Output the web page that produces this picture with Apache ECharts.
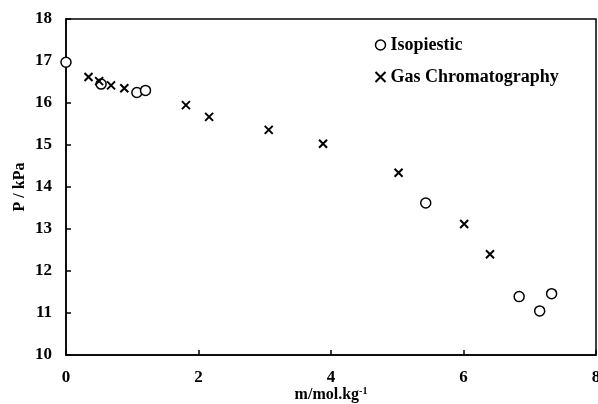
<!DOCTYPE html>
<html><head><meta charset="utf-8">
<script src="https://cdn.jsdelivr.net/npm/echarts@6/dist/echarts.min.js"></script>
<style>html,body{margin:0;padding:0;background:#fff}#c{width:598px;height:404px}</style>
</head><body><div id="c"></div>
<script>
const isoX = [0, 0.53, 1.07, 1.20, 5.43, 6.84, 7.15, 7.33];
const isoY = [16.97, 16.45, 16.25, 16.30, 13.62, 11.39, 11.05, 11.46];
const gcX = [0.34, 0.50, 0.68, 0.88, 1.81, 2.16, 3.06, 3.88, 5.02, 6.01, 6.40];
const gcY = [16.62, 16.52, 16.42, 16.35, 15.95, 15.67, 15.36, 15.03, 14.34, 13.12, 12.40];
const xTicks = [0, 2, 4, 6, 8];
const yTicks = [10, 11, 12, 13, 14, 15, 16, 17, 18];

const font = 'Liberation Serif';
const cross = 'path://M0,0L10,10M10,0L0,10';
const chart = echarts.init(document.getElementById('c'));
chart.setOption({
  animation: false,
  backgroundColor: '#fff',
  grid: {left: 66, right: 2, top: 19, bottom: 49, show: true, borderColor: '#000', borderWidth: 1.5,
         containLabel: false, outerBoundsMode: 'none'},
  legend: {
    orient: 'vertical', left: 368, top: 31, itemGap: 14, itemWidth: 10, itemHeight: 10,
    textStyle: {fontFamily: font, fontWeight: 'bold', fontSize: 18, color: '#000'},
    data: [
      {name: 'Isopiestic', icon: 'circle', itemStyle: {color: '#fff', borderColor: '#000', borderWidth: 1.5}},
      {name: 'Gas Chromatography', icon: cross, itemStyle: {color: 'none', borderColor: '#000', borderWidth: 2}}
    ]
  },
  xAxis: {
    type: 'value', min: xTicks[0], max: xTicks[xTicks.length-1], interval: 2,
    splitLine: {show: false},
    axisLine: {lineStyle: {color: '#000', width: 1.5}},
    axisTick: {inside: true, length: 5, lineStyle: {color: '#000', width: 1.5}},
    axisLabel: {fontFamily: font, fontWeight: 'bold', fontSize: 17, color: '#000', margin: 14},
    name: '{a|m/mol.kg}{s|-1}', nameLocation: 'middle', nameGap: 31, nameMoveOverlap: false,
    nameTextStyle: {rich: {
      a: {fontFamily: font, fontWeight: 'bold', fontSize: 16, color: '#000'},
      s: {fontFamily: font, fontWeight: 'bold', fontSize: 10, color: '#000', verticalAlign: 'top', padding: [0,0,8,0]}
    }}
  },
  yAxis: {
    type: 'value', min: yTicks[0], max: yTicks[yTicks.length-1], interval: 1,
    splitLine: {show: false},
    axisLine: {lineStyle: {color: '#000', width: 1.5}},
    axisTick: {inside: true, length: 5, lineStyle: {color: '#000', width: 1.5}},
    axisLabel: {fontFamily: font, fontWeight: 'bold', fontSize: 17, color: '#000', margin: 14},
    name: 'P / kPa', nameLocation: 'middle', nameGap: 38, nameMoveOverlap: false,
    nameTextStyle: {fontFamily: font, fontWeight: 'bold', fontSize: 16, color: '#000'}
  },
  series: [
    {name: 'Isopiestic', type: 'scatter', symbol: 'circle', symbolSize: 10,
     itemStyle: {color: '#fff', borderColor: '#000', borderWidth: 1.5, opacity: 1},
     data: isoX.map((x, i) => [x, isoY[i]])},
    {name: 'Gas Chromatography', type: 'scatter', symbol: cross, symbolSize: 8,
     itemStyle: {color: 'none', borderColor: '#000', borderWidth: 2, opacity: 1},
     data: gcX.map((x, i) => [x, gcY[i]])}
  ]
});
</script></body></html>
